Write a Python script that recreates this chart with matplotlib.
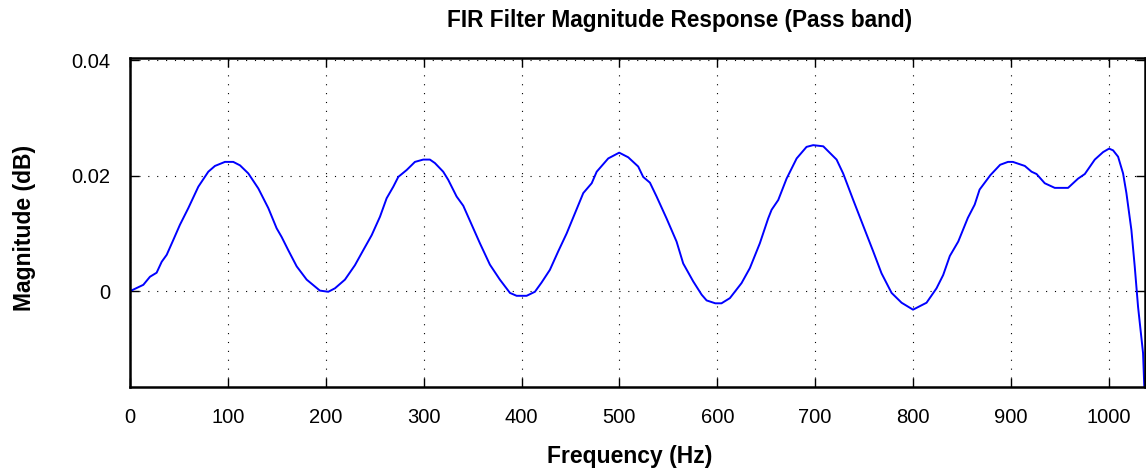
import matplotlib
matplotlib.use("Agg")
import matplotlib.pyplot as plt

# values (Hz, dB)
freq = [0, 13.6, 20.4, 27.2, 32.4, 37.5, 44.3, 51, 59.6, 69.8, 80, 86.8, 97, 105.5,
        112.4, 120.9, 131.1, 141.3, 149.8, 154.9, 161.7, 170.3, 180.5, 194, 202.6,
        209.4, 219.6, 229.8, 238.3, 246.9, 255.4, 262.2, 269, 274.1, 282.7, 291.1,
        299.6, 306.4, 311.5, 320, 325.1, 333.7, 340.5, 350.7, 357.5, 367.7, 377.9,
        388.2, 395, 405.2, 413.7, 420.5, 429, 437.5, 446.1, 454.6, 463.1, 471.7,
        476.8, 488.6, 499.8, 509, 519.2, 524.3, 531.2, 538, 548.2, 558.4, 565.2,
        575.4, 584, 589.1, 598, 604.3, 612.9, 624.8, 633.3, 643.5, 652, 655.5,
        662.3, 670.8, 681.1, 691.2, 698, 708.3, 721.9, 728.6, 738.9, 750.8, 759.3,
        767.8, 778.1, 788.3, 800, 813.8, 824, 830.8, 837.6, 846.2, 856, 863, 868,
        879, 889, 897, 902, 914.2, 921.1, 926.2, 934.6, 944.8, 958.4, 968.6, 975.5,
        985.7, 994.2, 1000.3, 1004.4, 1009.5, 1014.6, 1018, 1023.1, 1026.5, 1029.9,
        1035, 1036.6]
mag = [0, 0.0011, 0.0025, 0.0032, 0.0051, 0.0063, 0.0089, 0.0115, 0.0144, 0.0181,
       0.0207, 0.0217, 0.0224, 0.0224, 0.0218, 0.0204, 0.0178, 0.0144, 0.0109, 0.0094,
       0.0071, 0.0043, 0.0020, 0.0001, -0.0001, 0.0005, 0.0020, 0.0045, 0.0071, 0.0097,
       0.0129, 0.0161, 0.0181, 0.0198, 0.0210, 0.0224, 0.0228, 0.0228, 0.0222, 0.0207,
       0.0193, 0.0164, 0.0148, 0.0109, 0.0083, 0.0046, 0.0020, -0.0003, -0.0008,
       -0.0008, -0.0001, 0.0015, 0.0037, 0.0069, 0.0100, 0.0135, 0.0170, 0.0187,
       0.0207, 0.0230, 0.0240, 0.0232, 0.0216, 0.0198, 0.0188, 0.0164, 0.0126, 0.0086,
       0.0048, 0.0017, -0.0006, -0.0016, -0.0021, -0.0021, -0.0012, 0.0014, 0.0040,
       0.0083, 0.0126, 0.0141, 0.0158, 0.0195, 0.0230, 0.0250, 0.0253, 0.0251, 0.0228,
       0.0204, 0.0158, 0.0106, 0.0069, 0.0031, -0.0003, -0.0020, -0.0032, -0.0020,
       0.0005, 0.0028, 0.0061, 0.0086, 0.0127, 0.0150, 0.0176, 0.0201, 0.0219, 0.0224,
       0.0224, 0.0217, 0.0207, 0.0203, 0.0187, 0.0179, 0.0179, 0.0195, 0.0203, 0.0228,
       0.0241, 0.0247, 0.0244, 0.0233, 0.0204, 0.0170, 0.0106, 0.0043, -0.0027,
       -0.0107, -0.0180]

xticks = [0, 100, 200, 300, 400, 500, 600, 700, 800, 900, 1000]
yticks = [0, 0.02, 0.04]
ytick_labels = ["0", "0.02", "0.04"]

plt.rcParams['font.family'] = ['Liberation Sans', 'DejaVu Sans']

fig = plt.figure(figsize=(11.46, 4.70), dpi=100)
ax = fig.add_axes([130 / 1146, 1 - 387 / 470, 1015 / 1146, 329 / 470])

ax.plot(freq, mag, color='#0000ff', linewidth=1.4)

ax.set_xlim(0, 1037)
ax.set_ylim(-0.0166, 0.0404)
ax.set_xticks(xticks)
ax.set_xticklabels([str(t) for t in xticks])
ax.set_yticks(yticks)
ax.set_yticklabels(ytick_labels)

ax.grid(True, color='black', linestyle=(0, (1, 7)), linewidth=0.8)
ax.tick_params(direction='in', length=6.5, width=1, top=True, right=True,
               labelsize=14.5, colors='black')
ax.tick_params(axis='x', pad=15)
ax.tick_params(axis='y', pad=14)
for s in ax.spines.values():
    s.set_linewidth(1.8)

fig.text(680 / 1146, 1 - 20 / 470, "FIR Filter Magnitude Response (Pass band)",
         ha='center', va='center', fontsize=16.3, fontweight='bold')
ax.set_xlabel("Frequency (Hz)", fontsize=16.5, fontweight='bold')
ax.xaxis.label.set_va('center')
ax.xaxis.set_label_coords((630 - 130) / 1015, (387 - 457) / 329)
ax.set_ylabel("Magnitude (dB)", fontsize=16.5, fontweight='bold')
ax.yaxis.label.set_va('center')
ax.yaxis.set_label_coords((25 - 130) / 1015, (387 - 228) / 329)

fig.savefig("out.png", dpi=100)
